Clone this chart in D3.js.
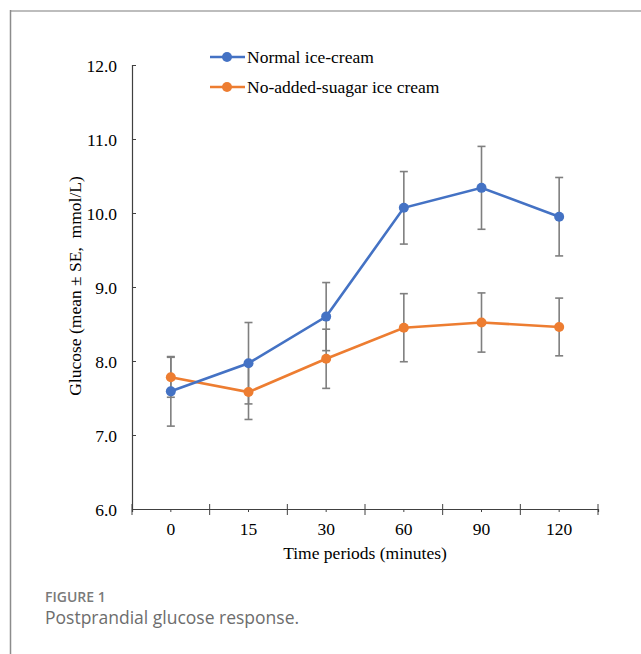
<!DOCTYPE html>
<html>
<head>
  <meta charset="UTF-8">
  <title>Postprandial glucose response</title>
  <style type="text/css">
    body { margin: 0; background: #fff; }
    text { font-family: "Liberation Serif", "Times New Roman", serif; }
    text.caption { font-family: "Open Sans", sans-serif; }
  </style>
</head>
<body>
  <script src="https://d3js.org/d3.v7.min.js"></script>
  <script>
    // data
    var times = ["0", "15", "30", "60", "90", "120"];
    var normalMean = [7.59, 7.97, 8.60, 10.07, 10.34, 9.95];
    var normalSE   = [0.47, 0.55, 0.46, 0.49, 0.56, 0.53];
    var sugarFreeMean = [7.78, 7.58, 8.03, 8.45, 8.52, 8.46];
    var sugarFreeSE   = [0.27, 0.37, 0.40, 0.46, 0.40, 0.39];
    var yTicks = [6, 7, 8, 9, 10, 11, 12];
    var seriesNames = ["Normal ice-cream", "No-added-suagar ice cream"];
    var seriesColors = ["#4472c4", "#ed7d31"];

    var W = 641, H = 654;
    var svg = d3.select("body").append("svg")
        .attr("width", W)
        .attr("height", H);

    // frame of the figure panel
    svg.append("line")
        .attr("x1", 10).attr("x2", W).attr("y1", 11).attr("y2", 11)
        .attr("stroke", "#bdbdbd").attr("stroke-width", 2);
    svg.append("line")
        .attr("x1", 10.5).attr("x2", 10.5).attr("y1", 10).attr("y2", H)
        .attr("stroke", "#8c8c8c").attr("stroke-width", 1.5);

    var x = d3.scaleBand().domain(times).range([132, 598]);
    var y = d3.scaleLinear().domain([6, 12]).range([509, 65]);
    var fs = "17.5px";

    // y axis (ticks pointing inward)
    var yAxis = d3.axisRight(y).tickValues(yTicks).tickSize(4).tickFormat(d3.format(".1f"));
    var gy = svg.append("g").attr("transform", "translate(132,0)").call(yAxis);
    gy.select(".domain").attr("stroke", "#404040").attr("stroke-width", 1.2);
    gy.selectAll(".tick line").attr("stroke", "#404040");
    gy.selectAll(".tick text")
        .attr("x", -15).attr("dy", "0.35em")
        .attr("text-anchor", "end")
        .style("font-size", fs)
        .attr("fill", "#000");

    // x axis: small ticks at category centres, crossing ticks at boundaries
    var xAxis = d3.axisBottom(x).tickSize(3);
    var gx = svg.append("g").attr("transform", "translate(0,509)").call(xAxis);
    gx.select(".domain").attr("stroke", "#404040").attr("stroke-width", 1.2);
    gx.selectAll(".tick line").attr("stroke", "#404040");
    gx.selectAll(".tick text")
        .attr("y", 26).attr("dy", 0)
        .style("font-size", fs)
        .attr("fill", "#000");
    gx.selectAll("line.sep")
        .data([times[0]].concat(times))
      .enter().append("line")
        .attr("class", "sep")
        .attr("x1", function(d, i) { return i === 0 ? x(d) : x(d) + x.bandwidth(); })
        .attr("x2", function(d, i) { return i === 0 ? x(d) : x(d) + x.bandwidth(); })
        .attr("y1", -5).attr("y2", 6)
        .attr("stroke", "#404040");

    // axis titles
    svg.append("text")
        .attr("x", 365).attr("y", 559)
        .attr("text-anchor", "middle")
        .style("font-size", fs)
        .text("Time periods (minutes)");
    svg.append("text")
        .attr("transform", "translate(81,286) rotate(-90)")
        .attr("text-anchor", "middle")
        .style("font-size", fs)
        .style("white-space", "pre")
        .text("Glucose (mean \u00b1 SE,  mmol/L)");

    var series = [
      { mean: normalMean, se: normalSE, color: seriesColors[0] },
      { mean: sugarFreeMean, se: sugarFreeSE, color: seriesColors[1] }
    ];
    function cx(i) { return x(times[i]) + x.bandwidth() / 2; }

    // error bars
    series.forEach(function(s) {
      var g = svg.append("g").attr("stroke", "#7f7f7f").attr("stroke-width", 1.6);
      s.mean.forEach(function(m, i) {
        var hi = y(m + s.se[i]), lo = y(m - s.se[i]);
        g.append("line").attr("x1", cx(i)).attr("x2", cx(i)).attr("y1", hi).attr("y2", lo);
        g.append("line").attr("x1", cx(i) - 4).attr("x2", cx(i) + 4).attr("y1", hi).attr("y2", hi);
        g.append("line").attr("x1", cx(i) - 4).attr("x2", cx(i) + 4).attr("y1", lo).attr("y2", lo);
      });
    });

    // lines and markers (orange first, blue on top)
    var line = d3.line()
        .x(function(d, i) { return cx(i); })
        .y(function(d) { return y(d); });
    [series[1], series[0]].forEach(function(s) {
      svg.append("path")
          .datum(s.mean)
          .attr("d", line)
          .attr("fill", "none")
          .attr("stroke", s.color)
          .attr("stroke-width", 2.6);
      svg.selectAll(null)
          .data(s.mean)
        .enter().append("circle")
          .attr("cx", function(d, i) { return cx(i); })
          .attr("cy", function(d) { return y(d); })
          .attr("r", 5)
          .attr("fill", s.color);
    });

    // legend
    var legend = svg.append("g");
    seriesNames.forEach(function(name, i) {
      var ly = 57 + i * 30;
      legend.append("line")
          .attr("x1", 210).attr("x2", 245).attr("y1", ly).attr("y2", ly)
          .attr("stroke", seriesColors[i]).attr("stroke-width", 2.6);
      legend.append("circle")
          .attr("cx", 227).attr("cy", ly).attr("r", 5)
          .attr("fill", seriesColors[i]);
      legend.append("text")
          .attr("x", 247).attr("y", ly + 5.5)
          .style("font-size", fs)
          .text(name);
    });

    // caption
    svg.append("text")
        .attr("class", "caption")
        .attr("x", 45).attr("y", 602)
        .style("font-size", "14px")
        .style("font-weight", "600")
        .attr("fill", "#7a7a7a")
        .text("FIGURE 1");
    svg.append("text")
        .attr("class", "caption")
        .attr("x", 45).attr("y", 624)
        .style("font-size", "17.5px")
        .attr("fill", "#6d6d6d")
        .text("Postprandial glucose response.");
  </script>
</body>
</html>
